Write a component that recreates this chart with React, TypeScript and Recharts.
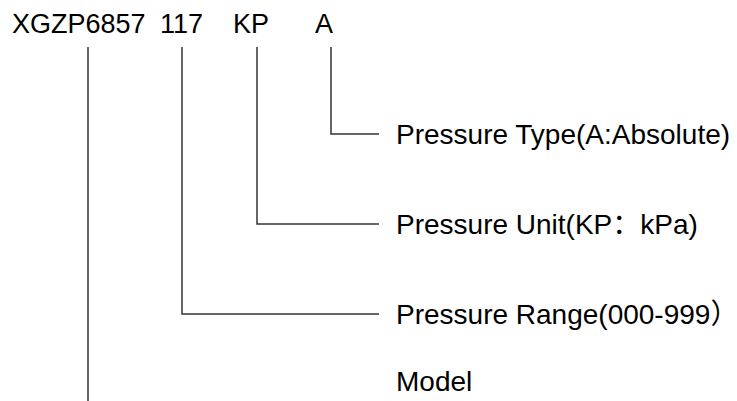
import React from 'react';
import { ScatterChart, Scatter, XAxis, YAxis } from 'recharts';

// Part number segments, left to right
const codes = ['XGZP6857', '117', 'KP', 'A'];
const codeStartX = [12, 160, 233, 315];
// where each segment's connector drops down
const codeStemX = [88, 182, 257, 331];

// Field descriptions, one per segment
const fields = [
  'Model',
  'Pressure Range(000-999）',
  'Pressure Unit(KP：kPa)',
  'Pressure Type(A:Absolute)',
];
const fieldLevels = [381, 314, 224, 134];

const stemTop = 47;
const stemBottom = 401;
const branchEnd = 379;
const labelX = 396;
const codeBaseline = 33;

const FONT = '"Liberation Sans", Arial, "Noto Sans CJK SC", sans-serif';

// connectors: model goes straight down, the rest turn right
const connectors = codeStemX.map((x, i) =>
  i === 0
    ? [
        { x, y: stemTop },
        { x, y: stemBottom },
      ]
    : [
        { x, y: stemTop },
        { x, y: fieldLevels[i] },
        { x: branchEnd, y: fieldLevels[i] },
      ]
);

const codePoints = codes.map((text, i) => ({ x: codeStartX[i], y: codeBaseline, text }));
const fieldPoints = fields.map((text, i) => ({ x: labelX, y: fieldLevels[i], text }));

const Empty = () => <g />;

const CodeText = (props: any) => (
  <text x={props.cx} y={props.cy} fontFamily={FONT} fontSize={27} fill="#000">
    {props.payload.text}
  </text>
);

const FieldText = (props: any) => (
  <text x={props.cx} y={props.cy + 10} fontFamily={FONT} fontSize={28} fill="#000">
    {props.payload.text}
  </text>
);

export default function App() {
  return (
    <div style={{ position: 'absolute', left: 0, top: 0, width: 737, height: 401, background: '#fff' }}>
      <ScatterChart width={737} height={401} margin={{ top: 0, right: 0, bottom: 0, left: 0 }}>
        <XAxis type="number" dataKey="x" domain={[0, 737]} hide />
        <YAxis type="number" dataKey="y" domain={[0, 401]} reversed hide />
        {connectors.map((pts, i) => (
          <Scatter
            key={i}
            data={pts}
            line={{ stroke: '#333', strokeWidth: 1.5 }}
            lineType="joint"
            shape={Empty}
            isAnimationActive={false}
          />
        ))}
        <Scatter data={codePoints} shape={CodeText} isAnimationActive={false} />
        <Scatter data={fieldPoints} shape={FieldText} isAnimationActive={false} />
      </ScatterChart>
    </div>
  );
}
